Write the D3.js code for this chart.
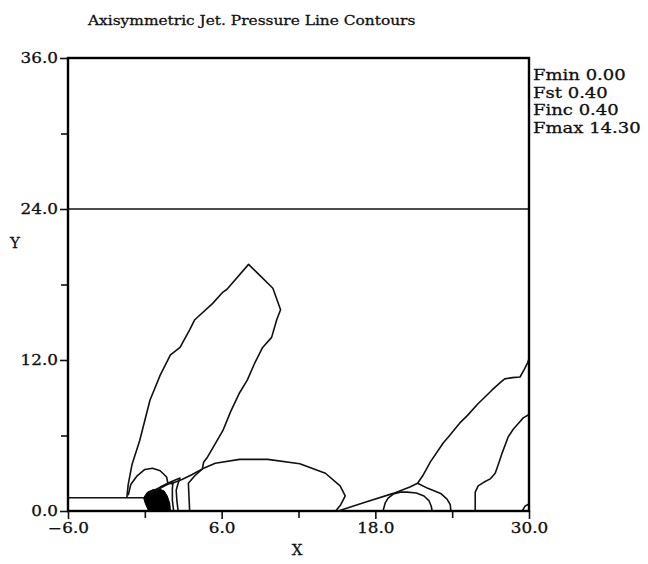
<!DOCTYPE html>
<html>
<head>
<meta charset="utf-8">
<script src="https://cdn.jsdelivr.net/npm/d3@7/dist/d3.min.js"></script>
<style>
  html, body { margin: 0; padding: 0; background: #fff; }
  svg { display: block; }
  text { font-family: "DejaVu Serif", "Liberation Serif", serif; fill: #111; stroke: #111; stroke-width: 0.3; }
</style>
</head>
<body>
<svg id="chart" width="648" height="564"></svg>
<script>
// Axis ticks
const xMajor = [-6, 6, 18, 30];
const xMinor = [0, 12, 24];
const yMajor = [0, 12, 24, 36];
const yMinor = [6, 18, 30];

// Contour run parameters shown at the right of the frame
const legendLines = ["Fmin 0.00", "Fst 0.40", "Finc 0.40", "Fmax 14.30"];

// Nozzle wall (radius 1) and far-field boundary
const nozzleWall = [[-6, 1.05], [-0.1, 1.05]];
const farField = [[-6, 24], [30, 24]];

// Pressure contour polylines, [x, y] in jet units
const plumeLobe = [
  [-1.4, 1.1], [-1.3, 2.1], [-1.0, 3.7], [-0.4, 5.6], [0.4, 8.8], [1.2, 10.8],
  [2.0, 12.4], [2.75, 13.0], [3.5, 14.4], [3.9, 15.2], [5.3, 16.5], [6.1, 17.4],
  [6.4, 17.6], [8.1, 19.6], [8.8, 18.9], [10.0, 17.7], [10.6, 16.0], [10.3, 15.2],
  [9.9, 13.8], [9.2, 13.0], [8.6, 11.8], [8.0, 10.4], [7.4, 9.4], [6.7, 7.9],
  [6.1, 6.4], [5.3, 5.0], [4.9, 4.3], [4.6, 3.9], [4.5, 3.4]
];
const shearLine = [
  [2.0, 2.15], [2.9, 2.5], [3.7, 2.9], [4.5, 3.35]
];
const longLobe = [
  [3.5, 0], [3.45, 1.1], [3.4, 2.2], [3.9, 2.8], [4.5, 3.35], [5.5, 3.8],
  [7.4, 4.1], [9.6, 4.1], [12.1, 3.75], [14.1, 3.0], [15.25, 2.0], [15.65, 1.2],
  [15.3, 0.5], [14.9, 0]
];
const lipArch = [
  [-1.3, 1.25], [-1.1, 2.1], [-0.6, 2.8], [0.0, 3.3], [0.6, 3.4], [1.2, 3.2],
  [1.7, 2.7], [1.8, 2.2]
];
const lipSpikeOuter = [
  [0.4, 1.45], [1.2, 1.9], [2.0, 2.3], [2.75, 2.62], [2.6, 2.2], [2.45, 1.65],
  [2.5, 0.85], [2.6, 0]
];
const lipSpikeInner = [
  [0.85, 1.6], [1.55, 2.0], [2.2, 2.3], [2.15, 1.8], [2.15, 0.85], [2.25, 0]
];
// Densely packed levels right at the nozzle exit, drawn as a solid core
const exitCore = [
  [-0.1, 1.05], [0.2, 1.5], [0.65, 1.7], [1.1, 1.75], [1.5, 1.6], [1.75, 1.2],
  [1.95, 0.6], [2.0, 0], [0.3, 0], [0.05, 0.55]
];
const shockLine = [
  [15.1, 0], [17.2, 0.7], [19.4, 1.4], [20.7, 1.9], [21.3, 2.2], [21.7, 2.8],
  [22.3, 3.9], [23.3, 5.4], [23.8, 6.0], [24.6, 7.0], [25.2, 7.6], [26.0, 8.5],
  [27.1, 9.6], [27.75, 10.2], [28.1, 10.5], [28.7, 10.6], [29.3, 10.65],
  [29.6, 11.2], [29.9, 11.8], [30, 12.1]
];
const shockFoot = [
  [21.3, 2.2], [22.1, 1.8], [23.1, 1.4], [23.6, 0.95], [23.85, 0.5], [23.9, 0]
];
const secondArch = [
  [18.6, 0], [18.77, 0.64], [19.0, 1.03], [19.4, 1.35], [19.95, 1.5],
  [20.5, 1.5], [21.2, 1.43], [21.8, 1.19], [22.2, 0.8], [22.36, 0.4], [22.44, 0]
];
const secondCell = [
  [25.8, 0], [25.8, 1.5], [26.03, 2.0], [26.5, 2.3], [26.97, 2.55], [27.36, 3.0],
  [27.67, 3.9], [27.9, 4.6], [28.38, 5.9], [28.77, 6.5], [29.08, 6.85],
  [29.55, 7.4], [29.94, 7.63], [30, 7.7]
];
const cornerArc = [[29.47, 0], [29.7, 0.4], [30, 0.55]];

const contours = [plumeLobe, shearLine, longLobe, lipArch, lipSpikeOuter,
  lipSpikeInner, shockLine, shockFoot, secondArch, secondCell, cornerArc];

const svg = d3.select("#chart");
const x = d3.scaleLinear().domain([-6, 30]).range([68, 529]);
const y = d3.scaleLinear().domain([0, 36]).range([511, 58]);
const line = d3.line().x(d => x(d[0])).y(d => y(d[1]));

// The plotter's serif is wider than the screen serif: widen each label
function widen(sel, k) {
  sel.each(function () {
    const w = this.getComputedTextLength();
    d3.select(this).attr("textLength", w * k).attr("lengthAdjust", "spacingAndGlyphs");
  });
}

svg.append("rect").attr("width", 648).attr("height", 564).attr("fill", "#fff");

// Title
svg.append("text")
  .attr("x", 88).attr("y", 25)
  .attr("font-size", 13.5)
  .text("Axisymmetric Jet. Pressure Line Contours")
  .call(widen, 1.14);

// Axes
const fmt = d3.format(".1f");
function styleAxis(g) {
  g.select(".domain").remove();
  g.selectAll(".tick line").attr("stroke", "#111").attr("stroke-width", 1.6);
  g.selectAll(".tick text").attr("font-size", 14)
    .attr("font-family", "DejaVu Serif, serif").attr("fill", "#111");
}
svg.append("g").attr("transform", `translate(${x(-6)},0)`)
  .call(d3.axisLeft(y).tickValues(yMajor).tickSize(8).tickPadding(2).tickFormat(fmt))
  .call(styleAxis)
  .selectAll(".tick text").call(widen, 1.2);
svg.append("g").attr("transform", `translate(${x(-6)},0)`)
  .call(d3.axisLeft(y).tickValues(yMinor).tickSize(7).tickFormat(""))
  .call(styleAxis);
svg.append("g").attr("transform", `translate(0,${y(0)})`)
  .call(d3.axisBottom(x).tickValues(xMajor).tickSize(8).tickPadding(4).tickFormat(fmt))
  .call(styleAxis)
  .selectAll(".tick text").call(widen, 1.2);
svg.append("g").attr("transform", `translate(0,${y(0)})`)
  .call(d3.axisBottom(x).tickValues(xMinor).tickSize(7).tickFormat(""))
  .call(styleAxis);

// Axis titles
svg.append("text").attr("x", 297).attr("y", 555).attr("text-anchor", "middle")
  .attr("font-size", 15).text("X");
svg.append("text").attr("x", 15).attr("y", 248).attr("text-anchor", "middle")
  .attr("font-size", 15).text("Y");

// Boundaries
svg.append("path").attr("d", line(farField))
  .attr("fill", "none").attr("stroke", "#111").attr("stroke-width", 1.4);
svg.append("path").attr("d", line(nozzleWall))
  .attr("fill", "none").attr("stroke", "#111").attr("stroke-width", 1.4);

// Contours
svg.append("path").attr("d", line(exitCore) + "Z")
  .attr("fill", "#000").attr("stroke", "#000").attr("stroke-width", 1);
svg.append("g").selectAll("path").data(contours).join("path")
  .attr("d", line)
  .attr("fill", "none").attr("stroke", "#111").attr("stroke-width", 1.6)
  .attr("stroke-linejoin", "round");

// Frame
svg.append("rect")
  .attr("x", x(-6)).attr("y", y(36))
  .attr("width", x(30) - x(-6)).attr("height", y(0) - y(36))
  .attr("fill", "none").attr("stroke", "#000").attr("stroke-width", 2.4);

// Legend
svg.append("g").selectAll("text").data(legendLines).join("text")
  .attr("x", 533).attr("y", (d, i) => 80 + i * 17.7)
  .attr("font-size", 15)
  .text(d => d)
  .call(widen, 1.2);
</script>
</body>
</html>
